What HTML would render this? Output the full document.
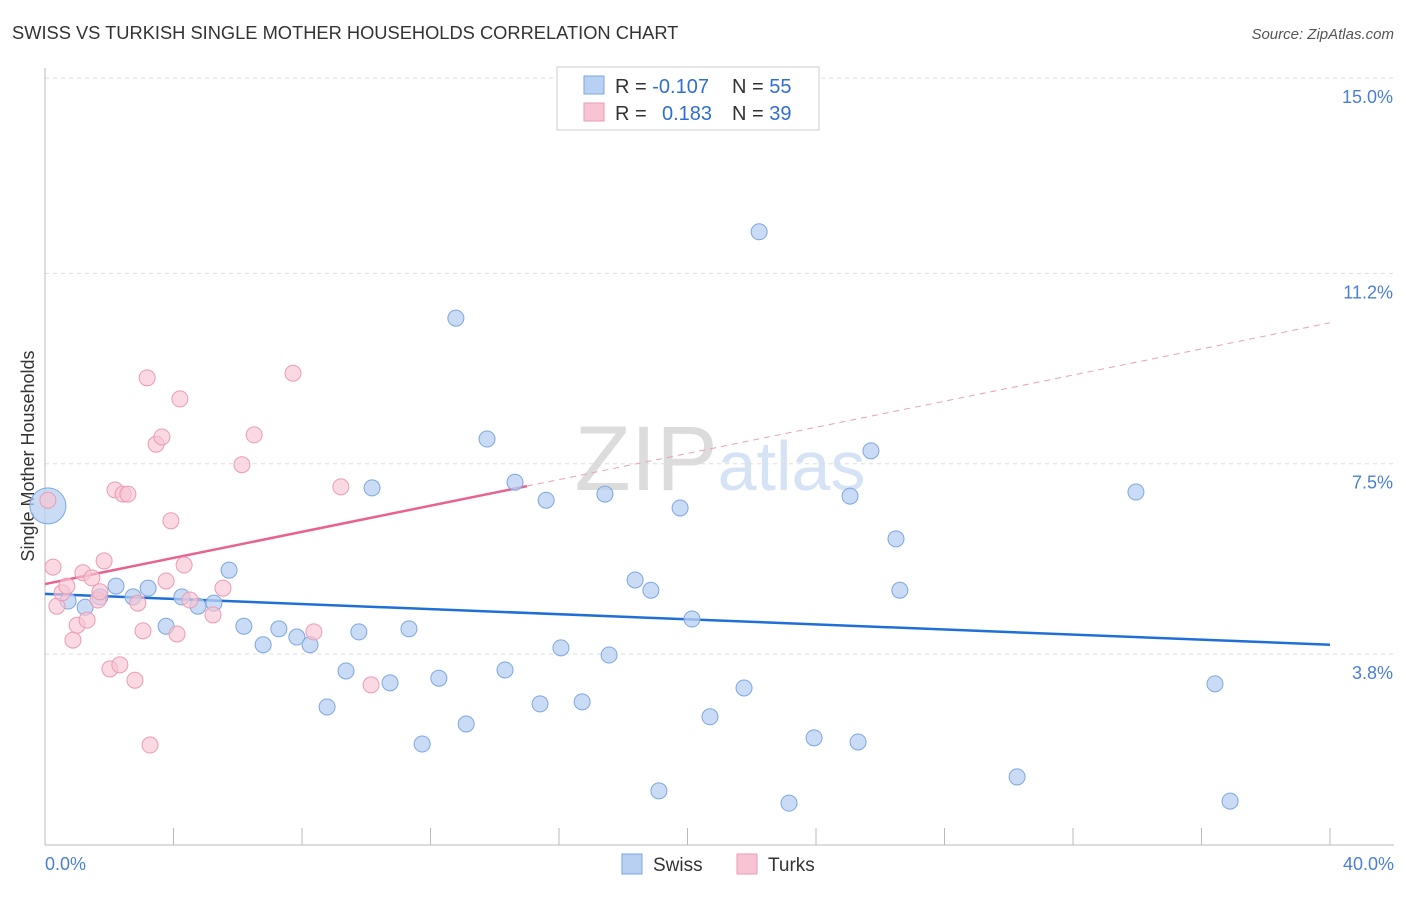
<!DOCTYPE html>
<html><head><meta charset="utf-8">
<style>
body{margin:0;background:#fff;font-family:"Liberation Sans",sans-serif;}
svg text{font-family:"Liberation Sans",sans-serif;}
</style></head>
<body>
<svg id="chart" width="1406" height="892" viewBox="0 0 1406 892" xmlns="http://www.w3.org/2000/svg">
<text x="12" y="39" font-size="18.3" fill="#333">SWISS VS TURKISH SINGLE MOTHER HOUSEHOLDS CORRELATION CHART</text>
<text x="1394" y="39" font-size="15" fill="#555" text-anchor="end" font-style="italic">Source: ZipAtlas.com</text>
<text x="720" y="490" font-size="92" text-anchor="middle" fill="#e4e8ee" font-family="Liberation Serif"><tspan fill="#dcdcdc">ZIP</tspan><tspan fill="#d6e3f5" font-family="Liberation Sans" font-size="70">atlas</tspan></text>
<text transform="translate(34,456) rotate(-90)" font-size="18" fill="#333" text-anchor="middle">Single Mother Households</text>
<g id="grid"></g>
<g id="axes"></g>
<g id="lines"></g>
<g id="points"></g>
<g>
<rect x="557" y="67" width="262" height="63" fill="#fff" stroke="#ccc"/>
<rect x="584" y="76" width="20" height="18" fill="#b8d0f2" stroke="#7ea6e0"/>
<rect x="584" y="103" width="20" height="18" fill="#f8c4d3" stroke="#eb9bb6"/>
<text x="615" y="93" font-size="20" fill="#333">R = <tspan fill="#2f6fd4">-0.107</tspan></text>
<text x="732" y="93" font-size="20" fill="#333">N = <tspan fill="#2f6fd4">55</tspan></text>
<text x="615" y="120" font-size="20" fill="#333">R = <tspan fill="#2f6fd4" x="662">0.183</tspan></text>
<text x="732" y="120" font-size="20" fill="#333">N = <tspan fill="#2f6fd4">39</tspan></text>
</g>
<g>
<rect x="622" y="854" width="20" height="20" fill="#b8d0f2" stroke="#7ea6e0"/>
<text x="653" y="871" font-size="19" fill="#333">Swiss</text>
<rect x="737" y="854" width="20" height="20" fill="#f8c4d3" stroke="#eb9bb6"/>
<text x="768" y="871" font-size="19" fill="#333">Turks</text>
</g>
</svg>
<script>
const yTicks=[15.0,11.2,7.5,3.8];
const yTickLabels=["15.0%","11.2%","7.5%","3.8%"];
const xTicks=[0,4,8,12,16,20,24,28,32,36,40];
const xEndLabels=["0.0%","40.0%"];
const swissX=[0.09,0.72,1.25,1.71,2.21,2.74,3.21,3.77,4.26,4.76,5.26,5.73,6.19,6.79,7.28,7.84,8.25,8.78,9.37,9.77,10.18,10.74,11.33,11.74,12.26,12.79,13.11,13.76,14.32,14.63,15.41,15.60,16.06,16.72,17.43,17.56,18.37,18.86,19.11,19.77,20.14,20.70,21.76,22.23,23.16,23.94,25.06,25.31,25.71,26.49,26.61,30.26,33.96,36.42,36.89];
const swissY=[6.68,4.83,4.71,4.91,5.12,4.91,5.08,4.34,4.91,4.73,4.79,5.43,4.34,3.98,4.29,4.13,3.98,2.77,3.47,4.23,7.03,3.24,4.29,2.05,3.33,10.33,2.44,7.98,3.49,7.14,2.83,6.79,3.92,2.87,6.91,3.78,5.24,5.04,1.14,6.64,4.48,2.58,3.14,12.01,0.90,2.17,6.87,2.09,7.75,6.04,5.04,1.41,6.95,3.22,0.94];
const turksX=[0.09,0.25,0.37,0.53,0.68,0.87,1.00,1.18,1.31,1.46,1.65,1.71,1.84,2.02,2.18,2.33,2.43,2.58,2.80,2.89,3.05,3.18,3.27,3.46,3.64,3.77,3.92,4.11,4.20,4.33,4.51,5.23,5.54,6.13,6.51,7.72,8.37,9.21,10.15];
const turksY=[6.79,5.49,4.73,4.99,5.12,4.07,4.36,5.38,4.46,5.28,4.85,5.01,5.61,3.51,6.99,3.59,6.91,6.91,3.29,4.79,4.25,9.17,2.03,7.88,8.02,5.22,6.39,4.19,8.76,5.53,4.85,4.56,5.08,7.48,8.06,9.26,4.23,7.05,3.20];
const swissTrend=[4.97,3.98];
const turksTrend=[5.16,10.24];
const turksSolidEnd=15;

const NS="http://www.w3.org/2000/svg";
const X=v=>45+v*32.125;
const Y=v=>78+(15-v)*51.43;
function mk(tag,attrs,parent){const e=document.createElementNS(NS,tag);for(const k in attrs)e.setAttribute(k,attrs[k]);document.getElementById(parent).appendChild(e);return e;}

yTicks.forEach((t,i)=>{
  const l=mk('line',{x1:45,x2:1394,y1:Y(t),y2:Y(t),stroke:'#ddd','stroke-dasharray':'4,4'},'grid');
  
  
  const tx=mk('text',{x:1393,y:Y(t)+25,'font-size':18,fill:'#4a7fd6','text-anchor':'end'},'axes');
  tx.textContent=yTickLabels[i];
  
  
});
const ax=mk('line',{x1:45,x2:45,y1:68,y2:845,stroke:'#bbb'},'axes');


const bx=mk('line',{x1:45,x2:1394,y1:845,y2:845,stroke:'#bbb'},'axes');


xTicks.forEach(t=>{
  const l=mk('line',{x1:X(t),x2:X(t),y1:828,y2:845,stroke:'#bbb'},'axes');
  
  
});
const xl0=mk('text',{x:45,y:870,'font-size':18,fill:'#4a7fd6'},'axes');
xl0.textContent=xEndLabels[0];


const xl1=mk('text',{x:1394,y:870,'font-size':18,fill:'#4a7fd6','text-anchor':'end'},'axes');
xl1.textContent=xEndLabels[1];



swissX.forEach((x,i)=>{
  const c=mk('circle',{cx:X(x),cy:Y(swissY[i]),r:i===0?18:8,fill:'#b8d0f2','fill-opacity':0.75,stroke:'#7ea6e0','stroke-width':1},'points');
  
  
});
turksX.forEach((x,i)=>{
  const c=mk('circle',{cx:X(x),cy:Y(turksY[i]),r:8,fill:'#f8c4d3','fill-opacity':0.65,stroke:'#eb9bb6','stroke-width':1},'points');
  
  
});
const sl=mk('line',{x1:X(0),y1:Y(swissTrend[0]),x2:X(40),y2:Y(swissTrend[1]),stroke:'#1f6fd6','stroke-width':2.5},'lines');


const tmid=turksTrend[0]+(turksTrend[1]-turksTrend[0])*turksSolidEnd/40;
const tl=mk('line',{x1:X(0),y1:Y(turksTrend[0]),x2:X(turksSolidEnd),y2:Y(tmid),stroke:'#e8628f','stroke-width':2.5},'lines');


const td=mk('line',{x1:X(turksSolidEnd),y1:Y(tmid),x2:X(40),y2:Y(turksTrend[1]),stroke:'#e8a0b8','stroke-width':1,'stroke-dasharray':'6,5'},'lines');


</script>
</body></html>
